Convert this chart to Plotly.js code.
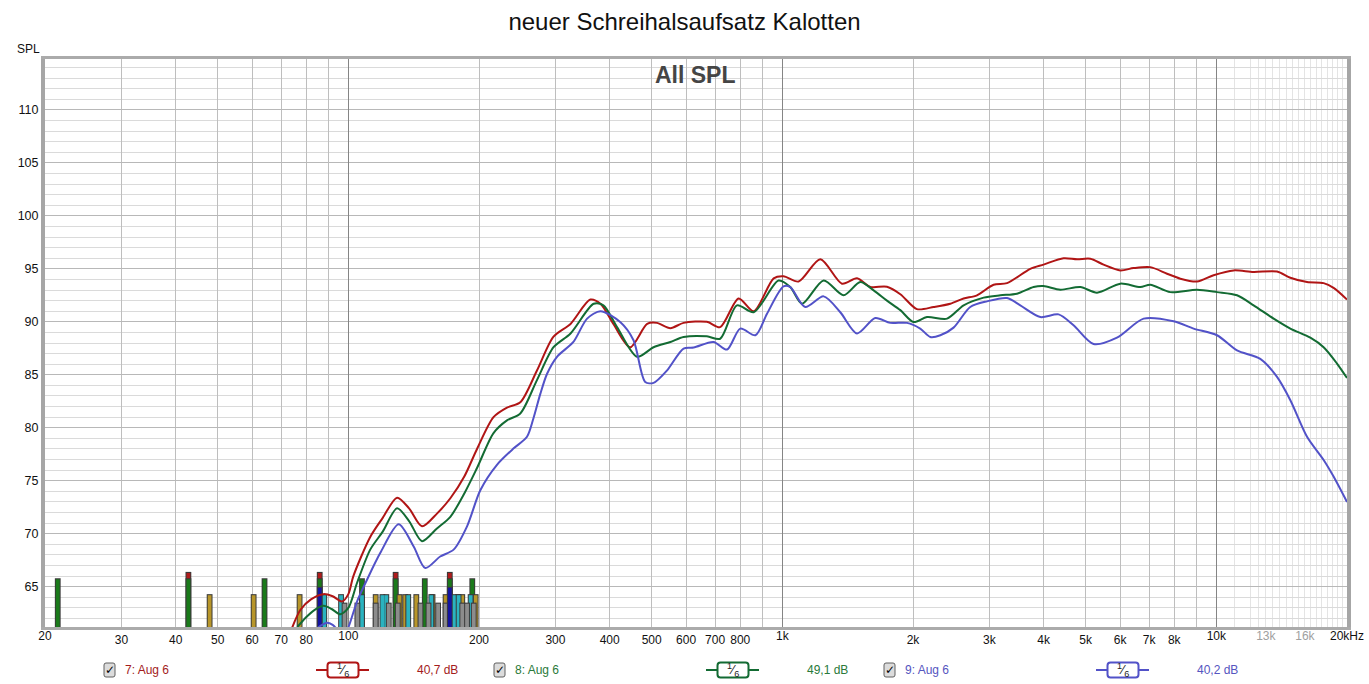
<!DOCTYPE html>
<html>
<head>
<meta charset="utf-8">
<script src="https://cdn.plot.ly/plotly-3.0.1.min.js"></script>
<style>html,body{margin:0;padding:0;background:#fff;}#chart{width:1369px;height:684px;}</style>
</head>
<body>
<div id="chart"></div>
<script>
// ---------------- data ----------------
var chartTitle = 'neuer Schreihalsaufsatz Kalotten';
var panelTitle = 'All SPL';
var yAxisLabel = 'SPL';

var redFreq = [74, 77.5, 82, 87.6, 92, 96.7, 100, 102.7, 112.3, 120, 129.5, 138, 147.8, 160, 171.8, 185, 197.9, 216, 232, 249, 272, 297, 325, 361, 381, 408, 446, 488, 514, 552, 592, 670, 719, 793, 859, 955, 1006, 1090, 1223, 1372, 1486, 1595, 1742, 1870, 2042, 2232, 2438, 2616, 2808, 3067, 3294, 3727, 3998, 4446, 4776, 5123, 5497, 6007, 6446, 7045, 7697, 8260, 9024, 9854, 10960, 12184, 13798, 14808, 16178, 17668, 18626, 20000];
var redSpl = [61.0, 62.8, 63.8, 64.3, 64.1, 63.6, 64.3, 66.0, 69.7, 71.5, 73.4, 72.4, 70.7, 71.9, 73.35, 75.4, 78.0, 81.0, 81.9, 82.4, 85.4, 88.6, 89.8, 92.1, 91.7, 89.8, 87.6, 89.8, 89.9, 89.4, 89.9, 90.0, 89.5, 92.2, 91.0, 94.1, 94.3, 93.8, 95.9, 93.6, 94.1, 93.3, 93.3, 92.6, 91.2, 91.4, 91.7, 92.2, 92.5, 93.5, 93.65, 95.0, 95.4, 96.0, 95.9, 95.95, 95.4, 94.85, 95.07, 95.16, 94.54, 94.07, 93.8, 94.4, 94.85, 94.7, 94.75, 94.16, 93.75, 93.65, 93.2, 92.1];

var greenFreq = [76.3, 79.6, 83.5, 87.7, 91.5, 95.8, 100, 104.7, 112.3, 120, 129.5, 138, 147.8, 160, 171.8, 185, 197.9, 216, 232, 249, 272, 297, 325, 367.5, 387, 416, 462.7, 505, 552, 592, 670, 719, 786, 859, 980, 1043, 1110, 1245, 1384, 1512, 1623, 1742, 1870, 2006, 2154, 2396, 2616, 2910, 3178, 3472, 3792, 3998, 4370, 4860, 5310, 6007, 6680, 7045, 7832, 9024, 10036, 11158, 12184, 13552, 14808, 16466, 17668, 18968, 20000];
var greenSpl = [61.2, 62.05, 62.8, 63.2, 62.9, 62.4, 63.0, 65.35, 68.5, 70.2, 72.4, 71.2, 69.3, 70.5, 71.6, 73.8, 76.2, 79.5, 80.7, 81.35, 84.5, 87.6, 88.9, 91.7, 91.55, 89.5, 86.7, 87.6, 88.1, 88.57, 88.63, 88.4, 91.55, 90.9, 93.9, 93.28, 91.7, 93.9, 92.5, 93.75, 92.97, 92.0, 91.1, 89.98, 90.45, 90.3, 91.55, 92.28, 92.5, 92.65, 93.28, 93.37, 93.03, 93.28, 92.75, 93.6, 93.28, 93.5, 92.8, 93.03, 92.8, 92.5, 91.55, 90.3, 89.36, 88.5, 87.6, 86.06, 84.7];

var blueFreq = [83, 87, 89.3, 92, 95, 97.5, 100.1, 104.7, 110.4, 118.5, 130.6, 141.4, 150.4, 162.8, 174.8, 187.7, 201.4, 220, 240.4, 258, 267, 276.9, 287, 302.5, 330, 354.9, 381, 423, 454, 483, 505, 542, 592, 624.6, 694, 745.6, 800, 866.7, 921.8, 1006, 1043, 1129, 1245, 1360, 1486, 1637, 1773, 1937, 2078, 2192, 2312, 2480, 2710, 2962, 3294, 3534, 3930, 4330, 4688, 5214, 5902, 6800, 7970, 8864, 10036, 11158, 12624, 13798, 14808, 16178, 17668, 18626, 20000];
var blueSpl = [60.8, 61.4, 61.6, 61.4, 60.8, 60.3, 61.2, 63.6, 65.66, 68.2, 70.9, 68.8, 66.76, 67.85, 68.5, 70.7, 74.1, 76.5, 78.06, 79.15, 80.9, 83.2, 85.1, 86.7, 88.1, 90.3, 91.0, 89.98, 88.26, 84.33, 84.24, 85.4, 87.48, 87.57, 88.1, 87.38, 89.36, 88.73, 90.77, 93.34, 93.28, 91.4, 92.4, 90.9, 88.9, 90.36, 89.9, 89.9, 89.36, 88.57, 88.73, 89.45, 91.4, 91.93, 92.24, 91.55, 90.45, 90.7, 89.67, 87.9, 88.5, 90.3, 90.05, 89.36, 88.73, 87.3, 86.5, 84.8, 82.6, 79.15, 76.96, 75.4, 73.0];

// marker bars at the bottom (frequency, top level in dB)
var barRedFreq = [42.8, 85.9, 128.5, 171.3];
var barRedTop = [66.3, 66.3, 66.3, 66.3];
var barGreenFreq = [21.4, 42.8, 64.1, 85.9, 107.5, 128.5, 150.0, 171.3, 193.0];
var barGreenTop = [65.7, 65.7, 65.7, 65.7, 65.7, 65.7, 65.7, 65.7, 65.7];
var barOliveFreq = [47.9, 60.5, 77.2, 115.6, 131.2, 135.2, 143.4, 156.3, 167.5, 179.0, 183.0, 196.5];
var barOliveTop = [64.2, 64.2, 64.2, 64.2, 64.2, 64.2, 64.2, 64.2, 64.2, 64.2, 64.2, 64.2];
var barCyanFreq = [88.0, 96.2, 107.5, 119.8, 122.3, 137.4, 155.3, 175.0, 179.5, 191.3];
var barCyanTop = [64.2, 64.2, 64.2, 64.2, 64.2, 64.2, 64.2, 64.2, 64.2, 64.2];
var barGrayFreq = [98.0, 104.9, 115.6, 123.9, 130.0, 146.6, 153.0, 161.0, 167.5, 183.0, 187.7, 194.5];
var barGrayTop = [63.4, 63.4, 63.4, 63.4, 63.4, 63.4, 63.4, 63.4, 63.4, 63.4, 63.4, 63.4];
var barBlueFreq = [85.9, 171.3];
var barBlueTop = [64.9, 64.9];

// axis ticks
var xTickVals = [30, 40, 50, 60, 70, 80, 200, 300, 400, 500, 600, 700, 800, 2000, 3000, 4000, 5000, 6000, 7000, 8000];
var xTickText = ['30', '40', '50', '60', '70', '80', '200', '300', '400', '500', '600', '700', '800', '2k', '3k', '4k', '5k', '6k', '7k', '8k'];
var xUnlabeledVals = [90, 900, 9000];
var xDecadeVals = [20, 100, 1000, 10000];
var xDecadeText = ['20', '100', '1k', '10k'];
var xHighVals = [13000, 16000, 20000];
var xHighText = ['<span style="color:#a0a0a0">13k</span>', '<span style="color:#a0a0a0">16k</span>', '20kHz'];
var xFineGrid = [11000, 12000, 12500, 13000, 13500, 14000, 14500, 15000, 15500, 16000, 16500, 17000, 17500, 18000, 18500, 19000, 19500];
var yTickVals = [65, 70, 75, 80, 85, 90, 95, 100, 105, 110];

// legend entries
var legendNames = ['7: Aug 6', '8: Aug 6', '9: Aug 6'];
var legendLevels = ['40,7 dB', '49,1 dB', '40,2 dB'];

// ---------------- styling ----------------
var FONT = 'Liberation Sans, Arial, Helvetica, sans-serif';
var W = 1369, H = 684, ML = 45, MR = 22, MT = 59, MB = 57;
var PW = W - ML - MR, PH = H - MT - MB;
function px(x) { return (x - ML) / PW; }
function py(y) { return (H - MB - y) / PH; }

var curveColors = ['#b01515', '#136b33', '#5252c8'];
var textColors = ['#a31c1c', '#2a7a3a', '#5555c0'];
var BAR_BOTTOM = 60;

function barTraces(freqs, tops, color) {
  var xs = [], ys = [], yo = [];
  for (var i = 0; i < freqs.length; i++) {
    xs.push(freqs[i], freqs[i], null);
    ys.push(BAR_BOTTOM, tops[i], null);
    yo.push(BAR_BOTTOM, tops[i] + 0.1, null);
  }
  return [
    {x: xs, y: yo, type: 'scatter', mode: 'lines', line: {color: '#3a3a3a', width: 5.8}, hoverinfo: 'skip', showlegend: false},
    {x: xs, y: ys, type: 'scatter', mode: 'lines', line: {color: color, width: 3.8}, hoverinfo: 'skip', showlegend: false}
  ];
}

var traces = [];
traces = traces.concat(barTraces(barRedFreq, barRedTop, '#b01c1c'));
traces = traces.concat(barTraces(barGreenFreq, barGreenTop, '#1a7a1a'));
traces = traces.concat(barTraces(barOliveFreq, barOliveTop, '#b8962a'));
traces = traces.concat(barTraces(barCyanFreq, barCyanTop, '#2ab3c0'));
traces = traces.concat(barTraces(barGrayFreq, barGrayTop, '#8c8c8c'));
traces = traces.concat(barTraces(barBlueFreq, barBlueTop, '#1414a0'));

var series = [[redFreq, redSpl], [greenFreq, greenSpl], [blueFreq, blueSpl]];
series.forEach(function (s, i) {
  traces.push({x: s[0], y: s[1], type: 'scatter', mode: 'lines',
    line: {color: curveColors[i], width: 2, shape: 'spline', smoothing: 0.8},
    name: legendNames[i], showlegend: false});
});
// helper traces so the overlay axes are created
['x2', 'x3', 'x4'].forEach(function (ax) {
  traces.push({x: [], y: [], xaxis: ax, yaxis: 'y', type: 'scatter', mode: 'lines', showlegend: false, hoverinfo: 'skip'});
});

var xRange = [Math.log10(20), Math.log10(20000)];
var tickFont = {family: FONT, size: 12, color: '#111'};

var shapes = [];
var annotations = [];

annotations.push({xref: 'paper', yref: 'paper', x: px(695), y: py(75), text: '<b>' + panelTitle + '</b>',
  showarrow: false, xanchor: 'center', yanchor: 'middle', font: {family: FONT, size: 23, color: '#454545'}});
annotations.push({xref: 'paper', yref: 'paper', x: px(28), y: py(49), text: yAxisLabel,
  showarrow: false, xanchor: 'center', yanchor: 'middle', font: {family: FONT, size: 12, color: '#111'}});

function roundRectPath(x0, y0, x1, y1, r) {
  var p = function (x, y) { return px(x) + ',' + py(y); };
  return 'M' + p(x0 + r, y0) + ' L' + p(x1 - r, y0) + ' Q' + p(x1, y0) + ' ' + p(x1, y0 + r) +
    ' L' + p(x1, y1 - r) + ' Q' + p(x1, y1) + ' ' + p(x1 - r, y1) +
    ' L' + p(x0 + r, y1) + ' Q' + p(x0, y1) + ' ' + p(x0, y1 - r) +
    ' L' + p(x0, y0 + r) + ' Q' + p(x0, y0) + ' ' + p(x0 + r, y0) + ' Z';
}

var LEG_Y = 670;
legendNames.forEach(function (name, i) {
  var gx = 104 + 390 * i;
  shapes.push({type: 'path', xref: 'paper', yref: 'paper', path: roundRectPath(gx, LEG_Y - 7, gx + 11, LEG_Y + 7, 2),
    fillcolor: '#dcdcdc', line: {color: '#606060', width: 1}});
  annotations.push({xref: 'paper', yref: 'paper', x: px(gx + 5.5), y: py(LEG_Y), text: '<b>✓</b>', showarrow: false,
    xanchor: 'center', yanchor: 'middle', font: {family: 'DejaVu Sans, sans-serif', size: 12, color: '#000'}});
  annotations.push({xref: 'paper', yref: 'paper', x: px(gx + 19), y: py(LEG_Y), text: name, showarrow: false,
    xanchor: 'left', yanchor: 'middle', font: {family: FONT, size: 12, color: textColors[i]}});
  shapes.push({type: 'line', xref: 'paper', yref: 'paper', x0: px(gx + 212), x1: px(gx + 265), y0: py(LEG_Y), y1: py(LEG_Y),
    line: {color: curveColors[i], width: 2}});
  shapes.push({type: 'path', xref: 'paper', yref: 'paper', path: roundRectPath(gx + 223.5, LEG_Y - 7.5, gx + 254.5, LEG_Y + 7.5, 3),
    fillcolor: '#ffffff', line: {color: curveColors[i], width: 2}});
  annotations.push({xref: 'paper', yref: 'paper', x: px(gx + 239), y: py(LEG_Y), text: '<sup>1</sup>⁄<sub>6</sub>', showarrow: false,
    xanchor: 'center', yanchor: 'middle', font: {family: FONT, size: 13, color: '#222'}});
  annotations.push({xref: 'paper', yref: 'paper', x: px(gx + 311), y: py(LEG_Y), text: legendLevels[i], showarrow: false,
    xanchor: 'left', yanchor: 'middle', font: {family: FONT, size: 12, color: textColors[i]}});
});

function overlayAxis(vals, text, grid, gridcolor) {
  var a = {type: 'log', range: xRange, overlaying: 'x', anchor: 'y', side: 'bottom', tickmode: 'array',
    tickvals: vals, showgrid: grid, gridwidth: 1, ticks: '', zeroline: false, showline: false,
    tickfont: tickFont, fixedrange: true};
  if (gridcolor) a.gridcolor = gridcolor;
  if (text) { a.ticktext = text; } else { a.showticklabels = false; }
  return a;
}

var layout = {
  width: W, height: H,
  margin: {l: ML, r: MR, t: MT, b: MB, pad: 0},
  paper_bgcolor: '#ffffff', plot_bgcolor: '#ffffff',
  showlegend: false,
  title: {text: chartTitle, font: {family: FONT, size: 24, color: '#111'}, x: 0.5, xref: 'container', xanchor: 'center',
    y: 1 - 22 / H, yref: 'container', yanchor: 'middle'},
  xaxis: {type: 'log', range: xRange, tickmode: 'array', tickvals: xTickVals, ticktext: xTickText,
    showgrid: true, gridcolor: '#bebebe', gridwidth: 1, ticks: '', zeroline: false,
    showline: true, linecolor: '#ababab', linewidth: 3, mirror: true, tickfont: tickFont,
    minor: {tickmode: 'array', tickvals: xFineGrid, showgrid: true, gridcolor: '#e4e4e4', gridwidth: 1, ticks: ''},
    fixedrange: true},
  xaxis2: overlayAxis(xDecadeVals, xDecadeText, true, '#858585'),
  xaxis3: overlayAxis(xHighVals, xHighText, false, null),
  xaxis4: overlayAxis(xUnlabeledVals, null, true, '#bebebe'),
  yaxis: {range: [61.2, 114.8], tickmode: 'array', tickvals: yTickVals, showgrid: true, gridcolor: '#b8b8b8',
    gridwidth: 1, ticks: '', zeroline: false, showline: true, linecolor: '#a6a6a6', linewidth: 4, mirror: true,
    tickfont: {family: FONT, size: 12.5, color: '#111'},
    minor: {dtick: 1, showgrid: true, gridcolor: '#dadada', gridwidth: 1, ticks: ''},
    fixedrange: true},
  shapes: shapes,
  annotations: annotations
};

Plotly.newPlot('chart', traces, layout, {displayModeBar: false, staticPlot: true});
</script>
</body>
</html>
